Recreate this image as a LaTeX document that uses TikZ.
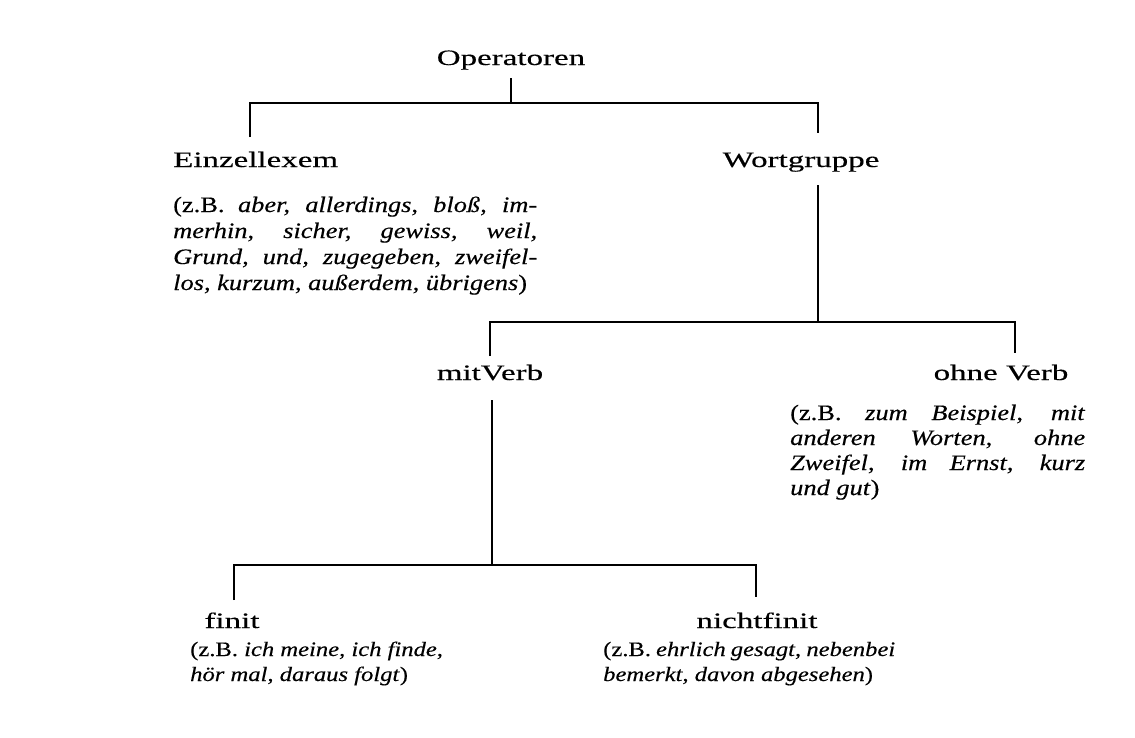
\documentclass[tikz,border=0pt]{standalone}
\usepackage{fontspec}
\setmainfont{Liberation Serif}
\newfontfamily\labfont{Liberation Serif}[FakeStretch=1.5,FakeBold=0.3]
\newfontfamily\exfont{Liberation Serif}[FakeStretch=1.2,FakeBold=0.3]
\newfontfamily\exsfont{Liberation Serif}[FakeStretch=1.2,FakeBold=0.3]
\newcommand{\jl}[2]{\makebox[#1pt][s]{#2}}
\begin{document}
\begin{tikzpicture}[x=1pt,y=-1pt,
  lab/.style={font=\labfont\fontsize{22}{26}\selectfont, inner sep=0pt},
  exline/.style={font=\exfont\fontsize{22}{26}\selectfont, inner sep=0pt, anchor=base west},
  exsline/.style={font=\exsfont\fontsize{20.5}{25}\selectfont, inner sep=0pt, anchor=base west},
  edge/.style={line width=1.4pt, line join=miter}]
\useasboundingbox (0,0) rectangle (1135,737);
\fill[white] (0,0) rectangle (1135,737);

% labels
\node[lab, anchor=base] (op) at (511,65) {Operatoren};
\node[lab, anchor=base west] (ez) at (173,167) {Einzellexem};
\node[lab, anchor=base] (wg) at (801,167) {Wortgruppe};
\node[lab, anchor=base] (mv) at (490,380) {mitVerb};
\node[lab, anchor=base] (ov) at (1001,380) {ohne Verb};
\node[lab, anchor=base] (fi) at (232,628) {finit};
\node[lab, anchor=base] (nf) at (757,628) {nichtfinit};

% examples
\node[exline] (ez1) at (173,212) {\jl{364}{(z.B. \textit{aber, allerdings, blo\ss, im-}}};
\node[exline] (ez2) at (173,238) {\jl{364}{\textit{merhin, sicher, gewiss, weil,}}};
\node[exline] (ez3) at (173,264) {\jl{364}{\textit{Grund, und, zugegeben, zweifel-}}};
\node[exline] (ez4) at (173,290) {\textit{los, kurzum, au\ss erdem, übrigens})};

\node[exline] (ov1) at (790,420) {\jl{295}{(z.B. \textit{zum Beispiel, mit}}};
\node[exline] (ov2) at (790,445) {\jl{295}{\textit{anderen Worten, ohne}}};
\node[exline] (ov3) at (790,470) {\jl{295}{\textit{Zweifel, im Ernst, kurz}}};
\node[exline] (ov4) at (790,495) {\textit{und gut})};

\node[exsline] (fi1) at (190,656) {(z.B. \textit{ich meine, ich finde,}};
\node[exsline] (fi2) at (190,681) {\textit{hör mal, daraus folgt})};

\node[exsline] (nf1) at (603,656) {\jl{292}{(z.B. \textit{ehrlich gesagt, nebenbei}}};
\node[exsline] (nf2) at (603,681) {\textit{bemerkt, davon abgesehen})};

% junction coordinates
\coordinate (opS) at (511,78);
\coordinate (j1) at (511,103);
\coordinate (j1L) at (250,103);
\coordinate (j1R) at (818,103);
\coordinate (ezN) at (250,137);
\coordinate (wgN) at (818,133);
\coordinate (wgS) at (818,185);
\coordinate (j2) at (818,322);
\coordinate (j2L) at (490,322);
\coordinate (j2R) at (1015,322);
\coordinate (mvN) at (490,356);
\coordinate (ovN) at (1015,353);
\coordinate (mvS) at (492,400);
\coordinate (j3) at (492,565);
\coordinate (j3L) at (234,565);
\coordinate (j3R) at (756,565);
\coordinate (fiN) at (234,600);
\coordinate (nfN) at (756,597);

\draw[edge] (opS) -- (j1);
\draw[edge] (ezN) -- (j1L) -- (j1R) -- (wgN);
\draw[edge] (wgS) -- (j2);
\draw[edge] (mvN) -- (j2L) -- (j2R) -- (ovN);
\draw[edge] (mvS) -- (j3);
\draw[edge] (fiN) -- (j3L) -- (j3R) -- (nfN);
\end{tikzpicture}
\end{document}
